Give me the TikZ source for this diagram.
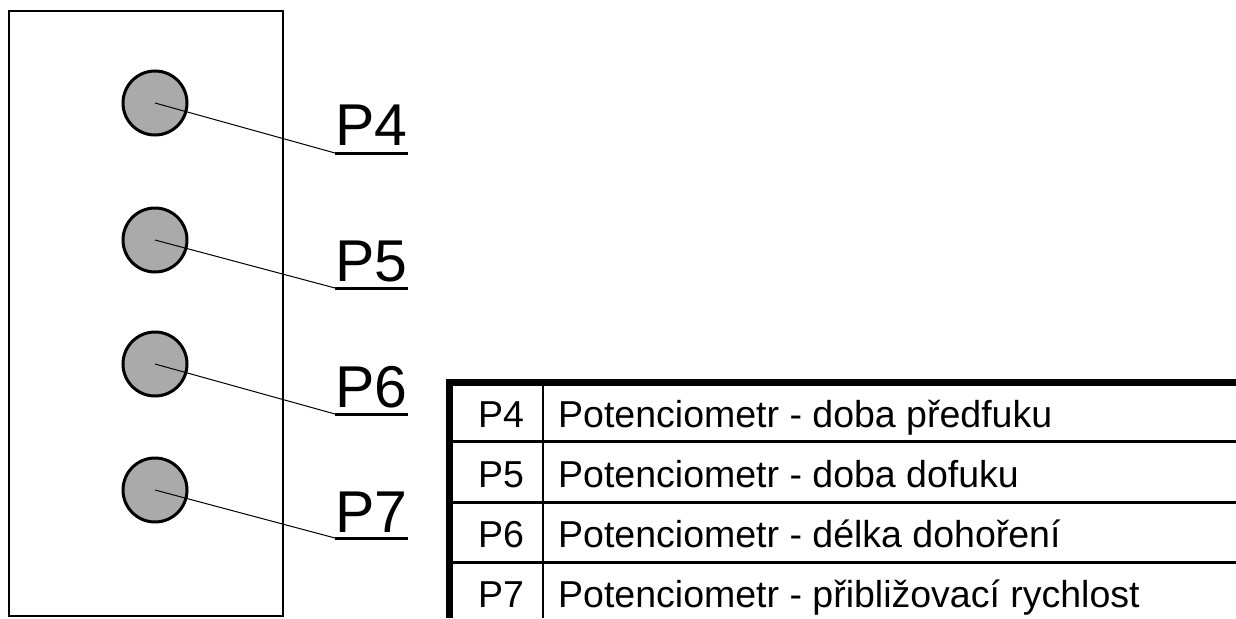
\documentclass[tikz,border=0pt]{standalone}
\usepackage{fontspec}
\setmainfont{Liberation Sans}
\definecolor{knobgray}{RGB}{170,170,170}
\begin{document}
\begin{tikzpicture}[x=1pt,y=-1pt]
\tikzstyle{every node}+=[inner sep=0pt]
\tikzstyle{knob}=[circle,draw=black,fill=knobgray,line width=3pt,minimum size=64pt]
\tikzstyle{tag}=[anchor=base west,font=\fontsize{59}{59}\selectfont]
\tikzstyle{cell}=[font=\fontsize{37.5}{37.5}\selectfont]
\useasboundingbox (0,0) rectangle (1236,618);
% panel with potentiometers
\draw [black,line width=2.5pt] (9,11) rectangle (283,616);
\node [knob] (p4) at (155,103) {};
\node [knob] (p5) at (155,240) {};
\node [knob] (p6) at (155,364) {};
\node [knob] (p7) at (155,490) {};
% labels
\node [tag] (l4) at (335,145) {P4};
\node [tag] (l5) at (335,281) {P5};
\node [tag] (l6) at (335,407) {P6};
\node [tag] (l7) at (335,532) {P7};
\coordinate (u4) at (335,153);
\coordinate (u5) at (335,288);
\coordinate (u6) at (335,414);
\coordinate (u7) at (335,538);
\draw [black,line width=1pt] (p4.center) -- (u4);
\draw [black,line width=3pt] (u4) -- (u4 -| l4.east);
\draw [black,line width=1pt] (p5.center) -- (u5);
\draw [black,line width=3pt] (u5) -- (u5 -| l5.east);
\draw [black,line width=1pt] (p6.center) -- (u6);
\draw [black,line width=3pt] (u6) -- (u6 -| l6.east);
\draw [black,line width=1pt] (p7.center) -- (u7);
\draw [black,line width=3pt] (u7) -- (u7 -| l7.east);
% legend table
\draw [black,line width=3pt] (449,441) -- (1236,441);
\draw [black,line width=3pt] (449,502) -- (1236,502);
\draw [black,line width=3pt] (449,562) -- (1236,562);
\draw [black,line width=2.5pt] (543,382) -- (543,618);
\draw [black,line width=7pt] (449,618) -- (449,382) -- (1236,382);
\node [cell,anchor=base] (k4) at (501,427) {P4};
\node [cell,anchor=base] (k5) at (501,487) {P5};
\node [cell,anchor=base] (k6) at (501,547) {P6};
\node [cell,anchor=base] (k7) at (501,607) {P7};
\node [cell,anchor=base west] (d4) at (558,427) {Potenciometr - doba předfuku};
\node [cell,anchor=base west] (d5) at (558,487) {Potenciometr - doba dofuku};
\node [cell,anchor=base west] (d6) at (558,547) {Potenciometr - délka dohoření};
\node [cell,anchor=base west] (d7) at (558,607) {Potenciometr - přibližovací rychlost};
\end{tikzpicture}
\end{document}
